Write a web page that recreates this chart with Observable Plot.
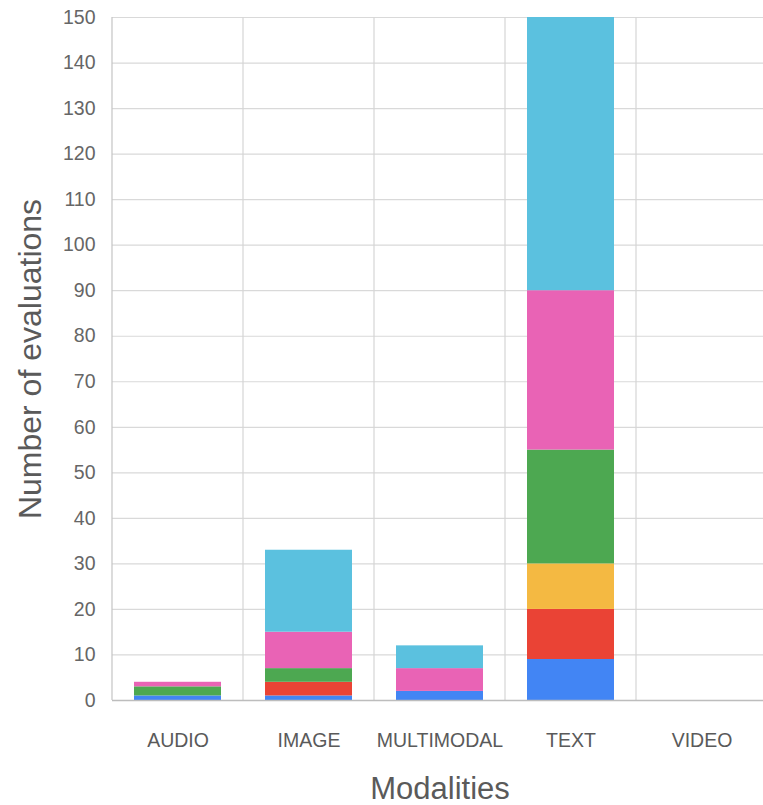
<!DOCTYPE html>
<html>
<head>
<meta charset="utf-8">
<script src="https://cdn.jsdelivr.net/npm/d3@7"></script>
<script src="https://cdn.jsdelivr.net/npm/@observablehq/plot@0.6"></script>
<style>
  html, body { margin: 0; padding: 0; background: #fff; overflow: hidden; }
  #chart svg { display: block; max-width: none !important; }
</style>
</head>
<body>
<div id="chart"></div>
<script>
// Evaluations per modality, stacked by group
const categories = ["AUDIO", "IMAGE", "MULTIMODAL", "TEXT", "VIDEO"];
const groups = ["g1", "g2", "g3", "g4", "g5", "g6"];
const groupColors = ["#4285F4", "#EA4335", "#F4B942", "#4DA851", "#E963B5", "#5BC1DF"];
const g1 = [1, 1, 2, 9, 0];
const g2 = [0, 3, 0, 11, 0];
const g3 = [0, 0, 0, 10, 0];
const g4 = [2, 3, 0, 25, 0];
const g5 = [1, 8, 5, 35, 0];
const g6 = [0, 18, 5, 60, 0];
const yTicks = d3.range(0, 151, 10);
const yLabel = "Number of evaluations";
const xLabel = "Modalities";

const series = [g1, g2, g3, g4, g5, g6];
const rows = [];
groups.forEach((g, gi) => {
  categories.forEach((c, ci) => {
    const v = series[gi][ci];
    if (v > 0) rows.push({modality: c, group: g, value: v});
  });
});

// Vertical separators at the band edges, computed from the x scale
function bandEdges(index, scales, values, dimensions) {
  const x = scales.x;
  const step = x.step ? x.step() : scales.scales.x.step;
  const bw = x.bandwidth ? x.bandwidth() : scales.scales.x.bandwidth;
  const edges = categories.map(c => x(c) - (step - bw) / 2);
  edges.push(edges[edges.length - 1] + step);
  const g = d3.create("svg:g");
  g.selectAll("line").data(edges).join("line")
    .attr("x1", d => d).attr("x2", d => d)
    .attr("y1", dimensions.marginTop)
    .attr("y2", dimensions.height - dimensions.marginBottom)
    .attr("stroke", (d, i) => i === 0 ? "#c4c4c4" : "#d6d6d6")
    .attr("stroke-width", 1.2);
  return g.node();
}

const chart = Plot.plot({
  width: 767,
  height: 805,
  marginTop: 17,
  marginBottom: 105,
  marginLeft: 112,
  marginRight: 0,
  style: {fontFamily: "'Liberation Sans', Arial, sans-serif", background: "#fff"},
  x: {domain: categories, paddingInner: 0.336, paddingOuter: 0.168, align: 0.5},
  y: {domain: [0, 150], ticks: yTicks},
  color: {domain: groups, range: groupColors},
  marks: [
    Plot.ruleY(yTicks.filter(t => t > 0), {stroke: "#d9d9d9", strokeWidth: 1.2}),
    bandEdges,
    Plot.barY(rows, Plot.stackY({x: "modality", y: "value", z: "group", fill: "group"})),
    Plot.ruleY([0], {stroke: "#bdbdbd", strokeWidth: 1.4}),
    Plot.axisY({ticks: yTicks, tickSize: 0, tickPadding: 17, fontSize: 19.5, color: "#666", label: null}),
    Plot.axisX({tickSize: 0, tickPadding: 33, fontSize: 19.5, color: "#5a5a5a", label: null}),
    Plot.text([yLabel], {frameAnchor: "left", textAnchor: "middle", lineAnchor: "middle", rotate: -90, dx: -82, fontSize: 32, fill: "#5a5a5a"}),
    Plot.text([xLabel], {frameAnchor: "bottom", textAnchor: "middle", lineAnchor: "middle", dy: 89, fontSize: 31, fill: "#5a5a5a"})
  ]
});
document.getElementById("chart").appendChild(chart);
</script>
</body>
</html>
